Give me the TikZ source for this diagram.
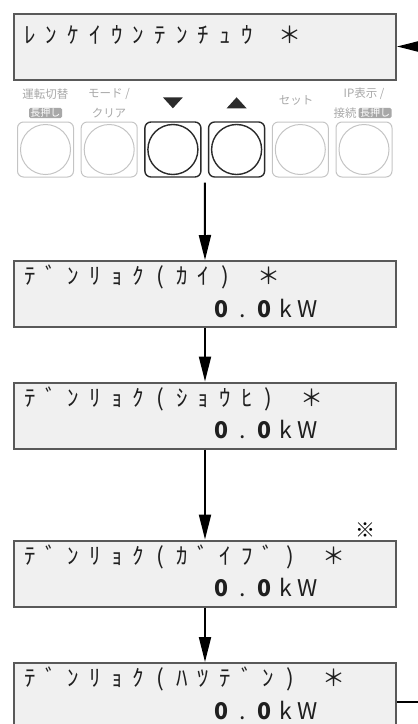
\documentclass[tikz,border=0pt]{standalone}
\usepackage{fontspec}
\setmainfont{Noto Sans CJK JP}
\newfontfamily\lcdfont{Noto Sans CJK JP}
\usetikzlibrary{arrows.meta, positioning, calc}
\definecolor{lcdfill}{HTML}{F0F0F0}
\definecolor{lcdframe}{HTML}{595959}
\definecolor{keygray}{HTML}{C4C4C4}
\definecolor{labelgray}{HTML}{A8A8A8}
\definecolor{keydark}{HTML}{2B2B2B}

% one character per LCD cell
\newlength\lcdw
\setlength\lcdw{21.7pt}
\def\lcdend{LCDEND}
\def\lcdstar{＊}
\def\lcdgo#1{\ifx#1\lcdend\else\makebox[\lcdw]{#1}\expandafter\lcdgo\fi}
\newcommand\lcd[1]{\lcdgo#1\lcdend}

\begin{document}
\begin{tikzpicture}[x=1pt, y=-1pt,
  lcd/.style={draw=lcdframe, fill=lcdfill, line width=2pt, minimum width=382pt, minimum height=66pt, inner sep=0pt},
  lcdtext/.style={anchor=west, inner sep=0pt, font=\lcdfont\fontsize{23}{23}\selectfont, text=black!88},
  key/.style={rounded corners=6pt, minimum width=56pt, minimum height=55pt, inner sep=0pt},
  ring/.style={circle, minimum size=50pt, inner sep=0pt},
  keylabel/.style={font=\fontsize{11.5}{13}\selectfont, text=labelgray, inner sep=0pt},
  badge/.style={fill=labelgray, text=white, rounded corners=1.5pt, font=\fontsize{10}{11}\selectfont, inner xsep=1.5pt, inner ysep=0.5pt},
  flow/.style={line width=2pt, -{Triangle[length=25pt, width=12pt]}}]
  \useasboundingbox (0,0) rectangle (418,724);
  \clip (0,0) rectangle (418,724);

  % displays
  \node[lcd] (disp1) at (205,46.5) {};
  \node[lcd] (disp2) at (205,294) {};
  \node[lcd] (disp3) at (205,415.5) {};
  \node[lcd] (disp4) at (205,573.5) {};
  \node[lcd] (disp5) at (205,696) {};

  \node[lcdtext] (txt1) at ([shift={(6,22)}]disp1.north west) {\lcd{ﾚﾝｹｲｳﾝﾃﾝﾁｭｳ~\lcdstar}};
  \node[lcdtext] (txt2) at ([shift={(6,17)}]disp2.north west) {\lcd{ﾃﾞﾝﾘｮｸ(ｶｲ)~\lcdstar}};
  \node[lcdtext] (val2) at ([shift={(197,48)}]disp2.north west) {\lcd{{\bfseries0}.{\bfseries0}kW}};
  \node[lcdtext] (txt3) at ([shift={(6,17)}]disp3.north west) {\lcd{ﾃﾞﾝﾘｮｸ(ｼｮｳﾋ)~\lcdstar}};
  \node[lcdtext] (val3) at ([shift={(197,48)}]disp3.north west) {\lcd{{\bfseries0}.{\bfseries0}kW}};
  \node[lcdtext] (txt4) at ([shift={(6,17)}]disp4.north west) {\lcd{ﾃﾞﾝﾘｮｸ(ｶﾞｲﾌﾞ)~\lcdstar}};
  \node[lcdtext] (val4) at ([shift={(197,48)}]disp4.north west) {\lcd{{\bfseries0}.{\bfseries0}kW}};
  \node[lcdtext] (txt5) at ([shift={(6,17)}]disp5.north west) {\lcd{ﾃﾞﾝﾘｮｸ(ﾊﾂﾃﾞﾝ)~\lcdstar}};
  \node[lcdtext] (val5) at ([shift={(197,48)}]disp5.north west) {\lcd{{\bfseries0}.{\bfseries0}kW}};

  \node[font=\fontsize{20}{20}\selectfont, inner sep=0pt] (note) at (365,530) {※};

  % keys
  \foreach \i/\kc/\kw in {1/keygray/1pt, 2/keygray/1pt, 3/keydark/1.4pt, 4/keydark/1.4pt, 5/keygray/1pt, 6/keygray/1pt}{
    \pgfmathsetmacro{\kx}{45.5+63.7*(\i-1)}
    \node[key, draw=\kc, line width=\kw] (key\i) at (\kx,149.5) {};
    \node[ring, draw=\kc, line width=\kw] (ring\i) at (key\i) {};
  }

  % key labels
  \node[keylabel] (lab1) at (45.5,94) {運転切替};
  \node[badge] (hold1) at (45.5,113) {長押し};
  \node[keylabel] (lab2) at (109,94) {モード /};
  \node[keylabel] (lab2b) at (109,113) {クリア};
  \fill[keydark] ($(key3.north)+(-10,-24)$) -- ++(20,0) -- ++(-10,11) -- cycle;
  \fill[keydark] ($(key4.north)+(-10,-13)$) -- ++(20,0) -- ++(-10,-11) -- cycle;
  \node[keylabel] (lab5) at (296,100) {セット};
  \node[keylabel] (lab6) at (364,94) {IP表示 /};
  \node[badge] (hold6) at (375,113) {長押し};
  \node[keylabel, left=1.5pt of hold6] (lab6b) {接続};

  % flow
  \coordinate (keys) at ($(key3.south)!0.5!(key4.south)+(0,5)$);
  \draw[flow] (keys) -- (disp2.north);
  \draw[flow] (disp2.south) -- (disp3.north);
  \draw[flow] (disp3.south) -- (disp4.north);
  \draw[flow] (disp4.south) -- (disp5.north);
  \draw[flow] ([yshift=-6pt]disp5.east) -- ++(30,0) |- (disp1.east);
\end{tikzpicture}
\end{document}
